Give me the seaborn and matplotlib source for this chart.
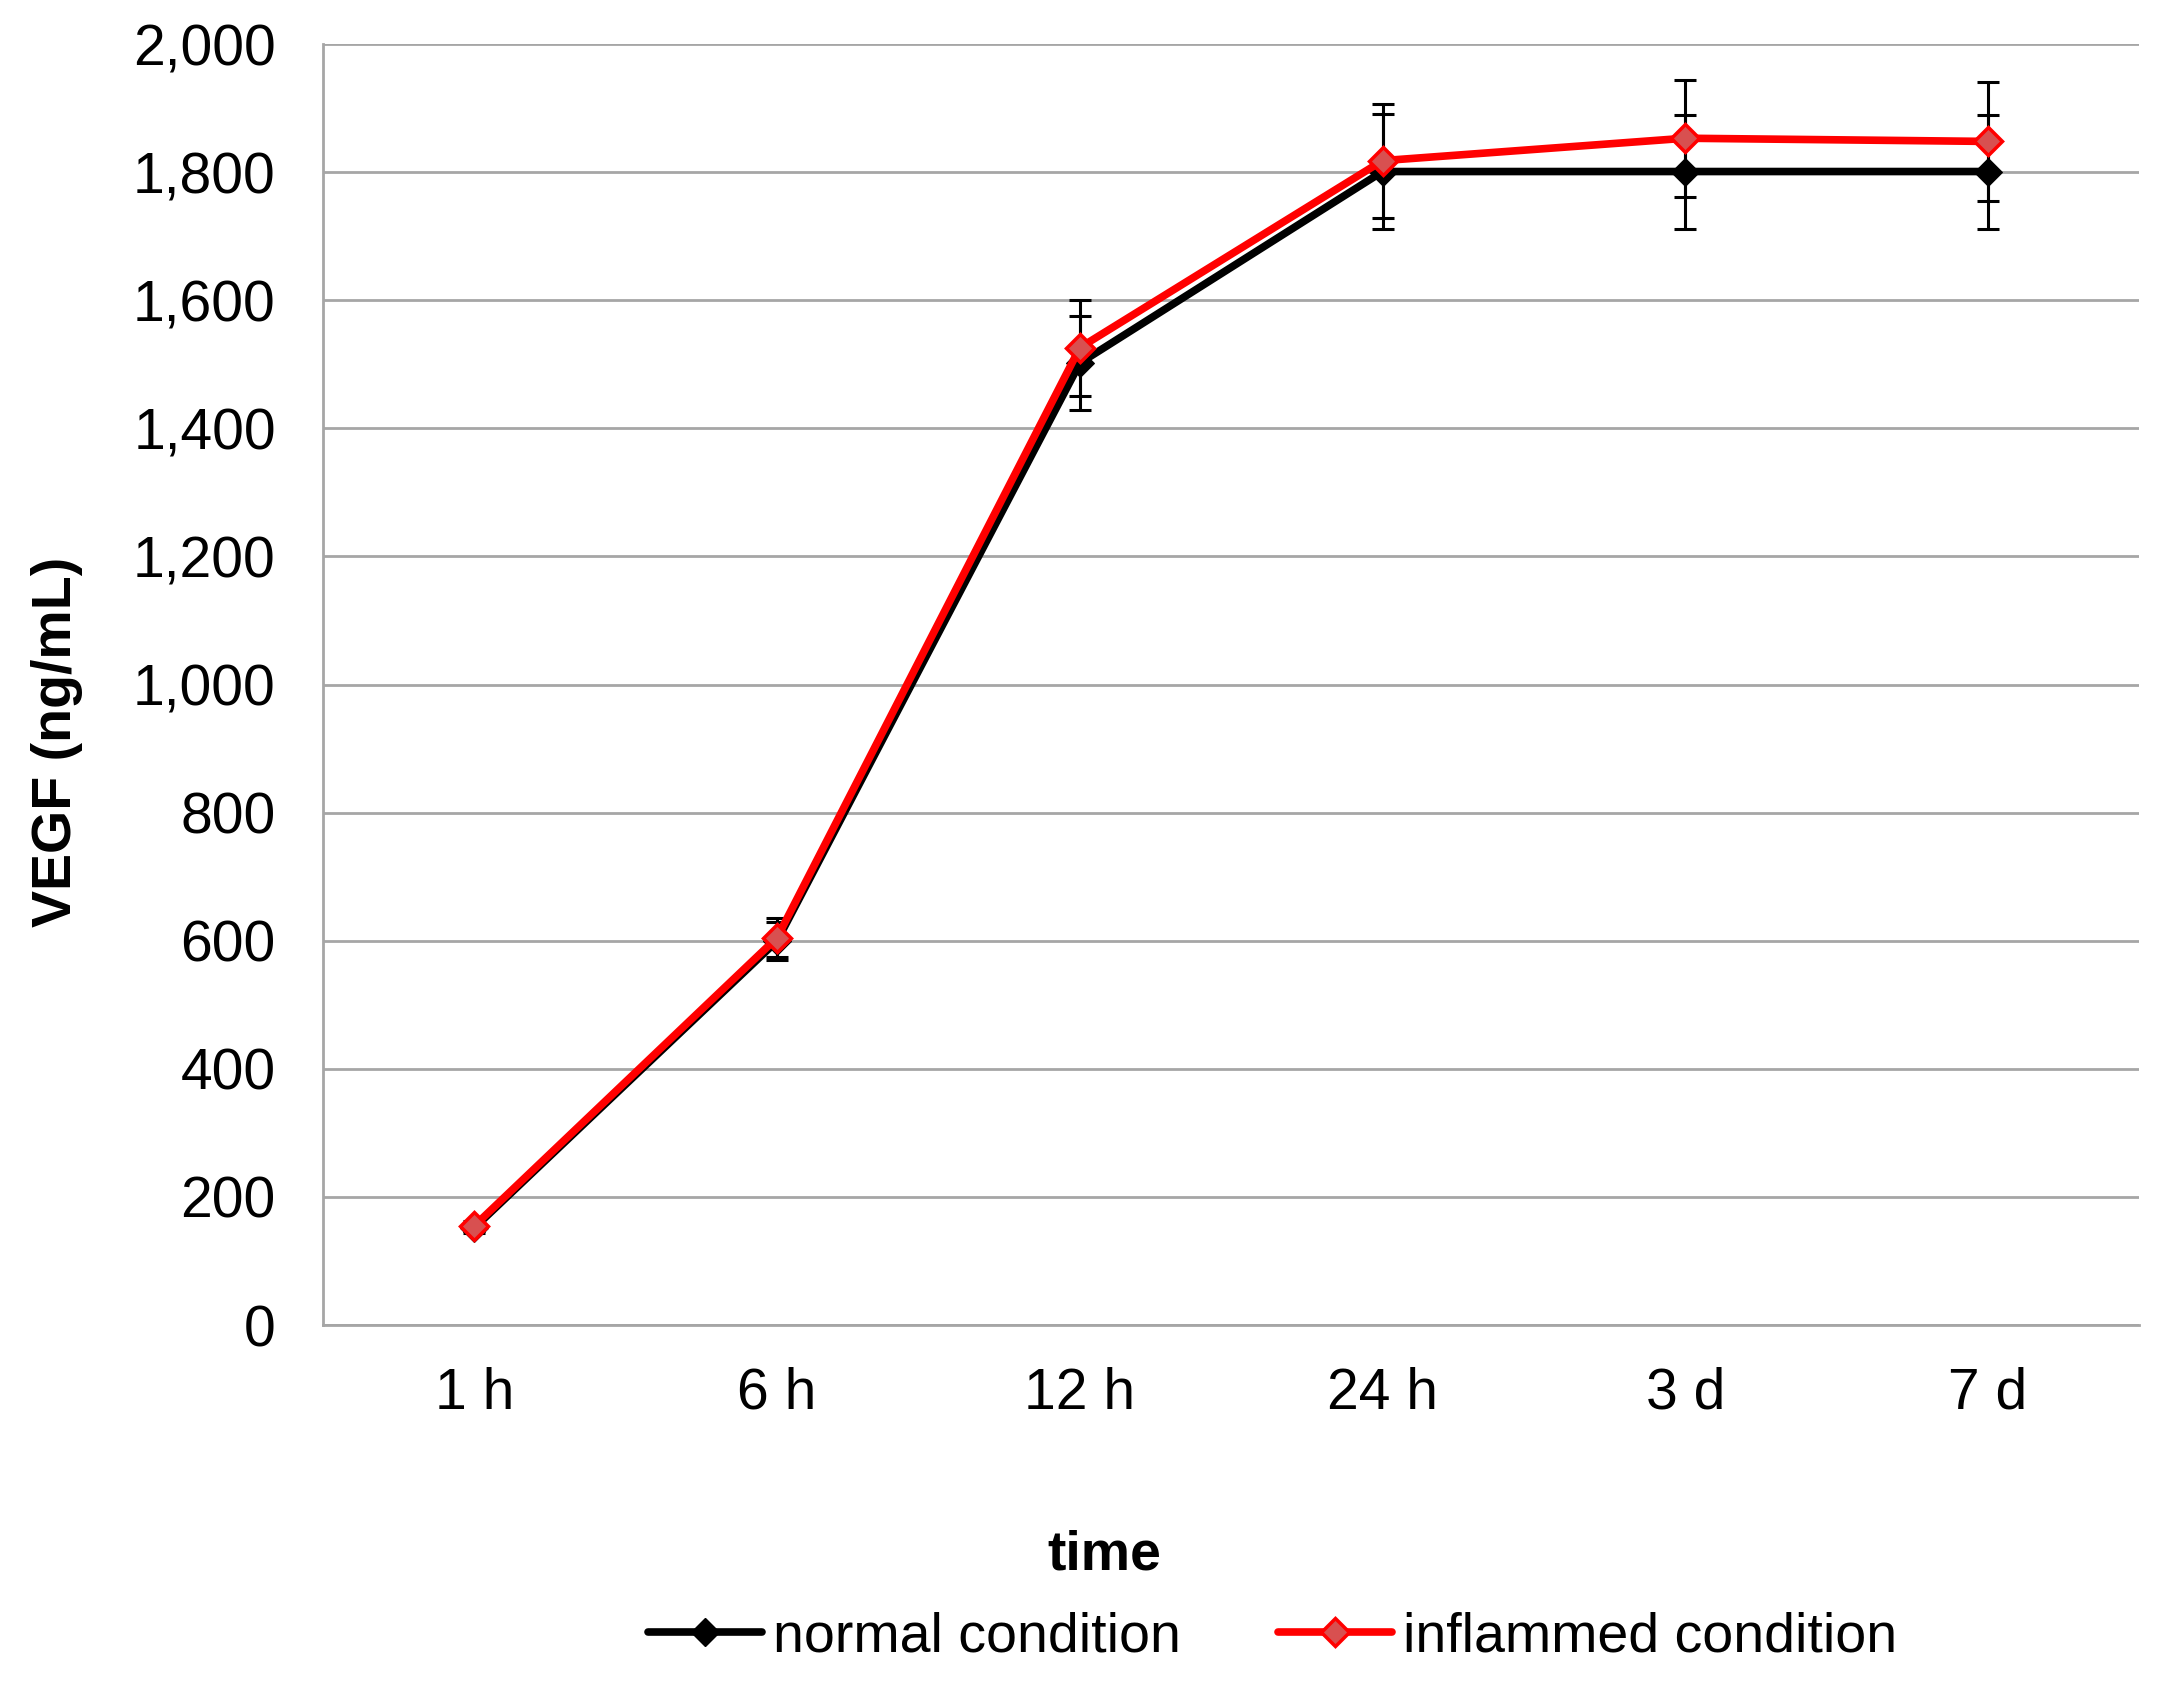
import matplotlib
matplotlib.use('Agg')
import matplotlib.pyplot as plt
import matplotlib.ticker as mticker
from matplotlib.lines import Line2D
import seaborn as sns
import pandas as pd
import numpy as np

# values
times = ['1 h', '6 h', '12 h', '24 h', '3 d', '7 d']
normal_mean = [152, 600, 1502, 1801, 1801, 1801]
normal_err = [8, 30, 74, 90, 89, 89]
inflamed_mean = [155, 605, 1526, 1818, 1853, 1848]
inflamed_err = [8, 30, 75, 89, 91, 93]
series_names = ['normal condition', 'inflammed condition']

sns.set_theme(style='white')
plt.rcParams['font.family'] = ['Liberation Sans', 'DejaVu Sans']
plt.rcParams['text.color'] = 'black'

df = pd.DataFrame({
    'time': times * 2,
    'VEGF': normal_mean + inflamed_mean,
    'err': normal_err + inflamed_err,
    'condition': [series_names[0]] * len(times) + [series_names[1]] * len(times),
})

fig = plt.figure(figsize=(21.61, 16.82), dpi=100)
ax = fig.add_axes([0.1495, 0.2122, 0.8405, 0.7616])

grid_c = '#A6A6A6'
red_face = '#D85050'
lw = 5.5
ms = 14

# error bars (black for both series, below the lines)
for name in series_names:
    sub = df[df['condition'] == name]
    ax.errorbar(sub['time'], sub['VEGF'], yerr=sub['err'], fmt='none',
                ecolor='black', elinewidth=2.2, capsize=8, capthick=2.2, zorder=2)

sns.lineplot(data=df, x='time', y='VEGF', hue='condition', style='condition',
             palette={series_names[0]: '#000000', series_names[1]: '#FF0000'},
             markers={series_names[0]: 'D', series_names[1]: 'D'},
             dashes=False, sort=False, linewidth=lw, markersize=ms,
             ax=ax, zorder=3, legend=False)

# marker face/edge colours
for ln in ax.get_lines():
    if matplotlib.colors.to_hex(ln.get_color()) == '#ff0000':
        ln.set_markerfacecolor(red_face)
        ln.set_markeredgecolor('#FF0000')
        ln.set_markeredgewidth(2.5)
    else:
        ln.set_markerfacecolor('#000000')
        ln.set_markeredgecolor('#000000')

ax.set_xlim(-0.5, len(times) - 0.5)
ax.set_ylim(0, 2000)
ax.yaxis.set_major_locator(mticker.MultipleLocator(200))
ax.yaxis.set_major_formatter(mticker.FuncFormatter(lambda v, p: f'{int(v):,}'))
ax.grid(axis='y', color=grid_c, linewidth=2)
ax.set_axisbelow(True)

ax.set_xticks(np.arange(len(times)))
ax.set_xticklabels(times)
ax.set_xticks(np.arange(len(times) + 1) - 0.5, minor=True)
ax.tick_params(axis='x', which='major', length=0, pad=30, labelsize=41, labelcolor='black')
ax.tick_params(axis='x', which='minor', length=12, width=2, color=grid_c, direction='out')
ax.tick_params(axis='y', which='major', length=12, width=2, color=grid_c, direction='out',
               pad=22, labelsize=41, labelcolor='black')

for s in ['top', 'right']:
    ax.spines[s].set_visible(False)
for s in ['left', 'bottom']:
    ax.spines[s].set_color(grid_c)
    ax.spines[s].set_linewidth(2)

ax.set_xlabel('')
ax.set_ylabel('VEGF (ng/mL)', fontsize=40, fontweight='bold', color='black')
ax.yaxis.set_label_coords(-0.132, 0.455)

fig.text(0.511, 1 - 1555 / 1682, 'time', fontsize=40, fontweight='bold',
         ha='center', va='center', color='black')

handles = [
    Line2D([], [], color='#000000', linewidth=lw, marker='D', markersize=ms,
           markerfacecolor='#000000', markeredgecolor='#000000'),
    Line2D([], [], color='#FF0000', linewidth=lw, marker='D', markersize=ms,
           markerfacecolor=red_face, markeredgecolor='#FF0000', markeredgewidth=2.5),
]
leg = fig.legend(handles, series_names, loc='center', bbox_to_anchor=(0.589, 1 - 1637 / 1682),
                 ncol=2, frameon=False, fontsize=40, handlelength=2.05, handletextpad=0.2,
                 columnspacing=1.75)
for t in leg.get_texts():
    t.set_color('black')

fig.savefig('out.png', dpi=100)
